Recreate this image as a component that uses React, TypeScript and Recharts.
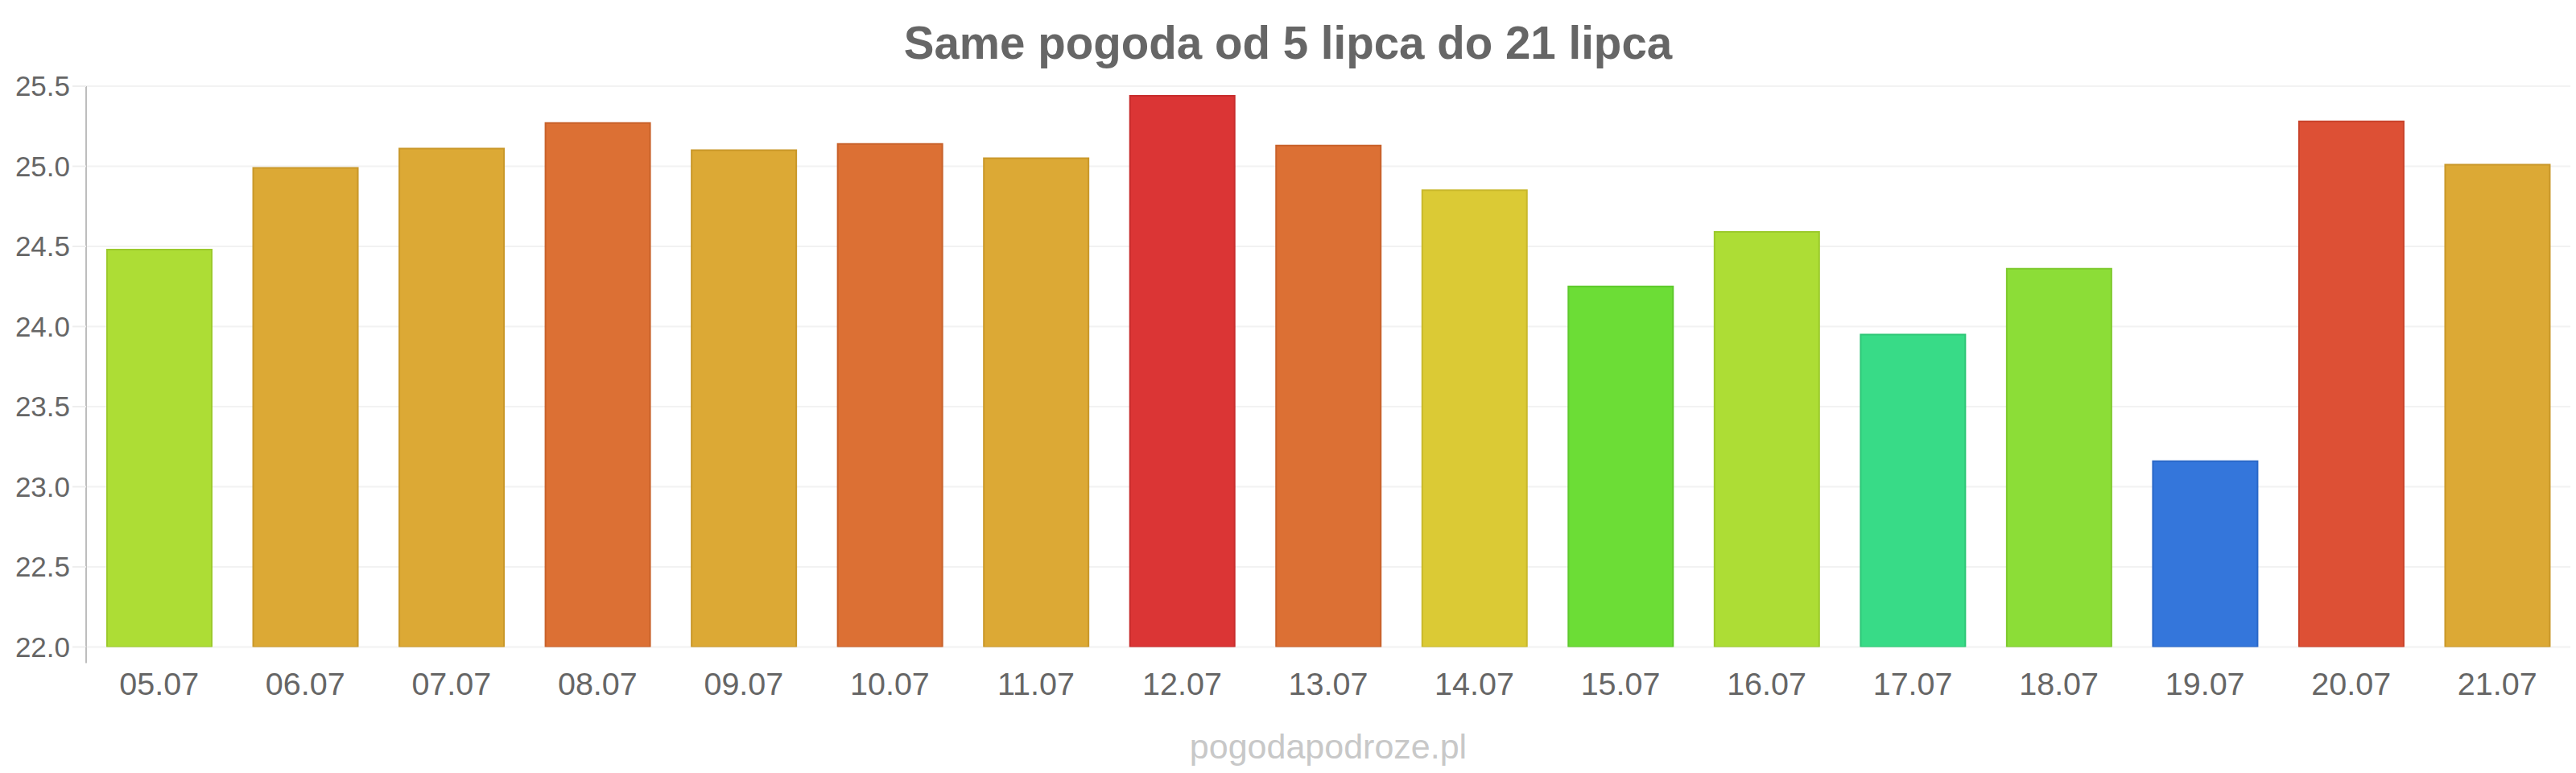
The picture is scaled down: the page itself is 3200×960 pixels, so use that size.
import React from 'react';
import { BarChart, Bar, XAxis, YAxis, CartesianGrid, Cell } from 'recharts';

// Daily temperatures, 5–21 July
const days = ['05.07', '06.07', '07.07', '08.07', '09.07', '10.07', '11.07', '12.07', '13.07', '14.07', '15.07', '16.07', '17.07', '18.07', '19.07', '20.07', '21.07'];
const temps = [24.48, 24.99, 25.11, 25.27, 25.1, 25.14, 25.05, 25.44, 25.13, 24.85, 24.25, 24.59, 23.95, 24.36, 23.16, 25.28, 25.01];
const yTicks = [22, 22.5, 23, 23.5, 24, 24.5, 25, 25.5];

// Per-bar fill and border colours (temperature colour scale)
const fills = ['#addd35', '#dca935', '#dca935', '#dc7034', '#dca935', '#dc7034', '#dca935', '#db3535', '#dc7034', '#dbca35', '#6cdd36', '#addd35', '#38db87', '#8cdd37', '#3476db', '#dd5035', '#dca935'];
const strokes = ['#9cca2c', '#c9982a', '#c9982a', '#c8612a', '#c9982a', '#c8612a', '#c9982a', '#c72c2c', '#c8612a', '#c9b82b', '#5ec92c', '#9cca2c', '#2ec777', '#7ec92e', '#2b68c7', '#c9432b', '#c9982a'];

const data = days.map((d, i) => ({ day: d, temp: temps[i] }));

const W = 3200;
const H = 960;
const PLOT_LEFT = 107;
const PLOT_TOP = 107;
const PLOT_RIGHT = 3193;
const PLOT_BOTTOM = 803.5;
const X_AXIS_H = 60;
const FONT = '"Liberation Sans", Arial, Helvetica, sans-serif';

export default function App() {
  return (
    <div style={{ position: 'absolute', left: 0, top: 0, width: W, height: H, background: '#fff' }}>
      <BarChart
        width={W}
        height={H}
        data={data}
        margin={{ top: PLOT_TOP, left: 0, right: W - PLOT_RIGHT, bottom: H - PLOT_BOTTOM - X_AXIS_H }}
      >
        <CartesianGrid horizontal vertical={false} stroke="#f2f2f2" strokeWidth={2} />
        <XAxis
          dataKey="day"
          height={X_AXIS_H}
          axisLine={false}
          tickLine={false}
          tickSize={20}
          tickMargin={11}
          interval={0}
          tick={{ fill: '#666', fontSize: 39.5, fontFamily: FONT }}
        />
        <YAxis
          width={PLOT_LEFT}
          domain={[22, 25.5]}
          ticks={yTicks}
          allowDataOverflow
          axisLine={{ stroke: '#bdbdbd', strokeWidth: 2 }}
          tickLine={{ stroke: '#eeeeee', strokeWidth: 2 }}
          tickSize={17}
          tickMargin={3}
          tickFormatter={(v: number) => v.toFixed(1)}
          tick={{ fill: '#666', fontSize: 35, fontFamily: FONT }}
        />
        <Bar dataKey="temp" barSize={130} isAnimationActive={false} strokeWidth={2}>
          {data.map((d, i) => (
            <Cell key={d.day} fill={fills[i]} stroke={strokes[i]} />
          ))}
        </Bar>
      </BarChart>
      <svg width={W} height={H} style={{ position: 'absolute', left: 0, top: 0, pointerEvents: 'none' }}>
        <line x1={PLOT_LEFT} x2={PLOT_LEFT} y1={PLOT_BOTTOM} y2={PLOT_BOTTOM + 20} stroke="#bdbdbd" strokeWidth={2} />
        <text x={W / 2} y={73} textAnchor="middle" fill="#666" fontSize={56.5} fontWeight="bold" fontFamily={FONT}>
          Same pogoda od 5 lipca do 21 lipca
        </text>
        <text x={(PLOT_LEFT + PLOT_RIGHT) / 2} y={942} textAnchor="middle" fill="#c8c8c8" fontSize={43} fontFamily={FONT}>
          pogodapodroze.pl
        </text>
      </svg>
    </div>
  );
}
